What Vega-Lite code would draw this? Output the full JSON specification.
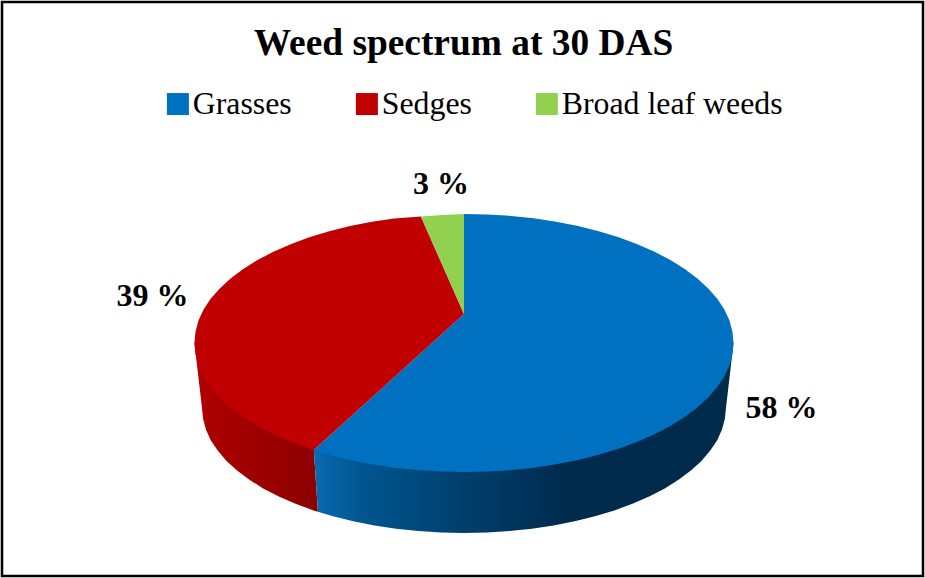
{
"$schema":"https://vega.github.io/schema/vega-lite/v6.json",
"description":"Three-dimensional style pie of weed spectrum shares, drawn from outlines in pie-radius units.",
"width":925,"height":578,
"autosize":{"type":"fit","contains":"padding"},
"padding":2,
"background":"white",
"view":{"stroke":"black","strokeWidth":2.5,"fill":"white"},
"title":{"text":"Weed spectrum at 30 DAS","font":"Liberation Serif","fontSize":37.4,"fontWeight":"bold","color":"black","anchor":"middle","frame":"group","baseline":"alphabetic","offset":-90,"dx":1},
"datasets":{
"shares":[
{"category":"Grasses","share":58,"label":"58 %","lx":117.8,"ly":-58.4},
{"category":"Sedges","share":39,"label":"39 %","lx":-115.6,"ly":29},
{"category":"Broad leaf weeds","share":3,"label":"3 %","lx":-8.5,"ly":115.8}
],
"top":[
{"category":"Grasses","i":0,"x":0,"y":22.5},{"category":"Grasses","i":1,"x":0,"y":100},{"category":"Grasses","i":2,"x":8.7,"y":99.6},{"category":"Grasses","i":3,"x":17.4,"y":98.5},{"category":"Grasses","i":4,"x":25.9,"y":96.6},{"category":"Grasses","i":5,"x":34.2,"y":94},{"category":"Grasses","i":6,"x":42.3,"y":90.6},{"category":"Grasses","i":7,"x":50,"y":86.6},{"category":"Grasses","i":8,"x":57.4,"y":81.9},{"category":"Grasses","i":9,"x":64.3,"y":76.6},{"category":"Grasses","i":10,"x":70.7,"y":70.7},{"category":"Grasses","i":11,"x":76.6,"y":64.3},{"category":"Grasses","i":12,"x":81.9,"y":57.4},{"category":"Grasses","i":13,"x":86.6,"y":50},{"category":"Grasses","i":14,"x":90.6,"y":42.3},{"category":"Grasses","i":15,"x":94,"y":34.2},{"category":"Grasses","i":16,"x":96.6,"y":25.9},{"category":"Grasses","i":17,"x":98.5,"y":17.4},{"category":"Grasses","i":18,"x":99.6,"y":8.7},{"category":"Grasses","i":19,"x":100,"y":0},{"category":"Grasses","i":20,"x":99.6,"y":-8.7},{"category":"Grasses","i":21,"x":98.5,"y":-17.4},{"category":"Grasses","i":22,"x":96.6,"y":-25.9},{"category":"Grasses","i":23,"x":94,"y":-34.2},{"category":"Grasses","i":24,"x":90.6,"y":-42.3},{"category":"Grasses","i":25,"x":86.6,"y":-50},{"category":"Grasses","i":26,"x":81.9,"y":-57.4},{"category":"Grasses","i":27,"x":76.6,"y":-64.3},{"category":"Grasses","i":28,"x":70.7,"y":-70.7},{"category":"Grasses","i":29,"x":64.3,"y":-76.6},{"category":"Grasses","i":30,"x":57.4,"y":-81.9},{"category":"Grasses","i":31,"x":50,"y":-86.6},{"category":"Grasses","i":32,"x":42.3,"y":-90.6},{"category":"Grasses","i":33,"x":34.2,"y":-94},{"category":"Grasses","i":34,"x":25.9,"y":-96.6},{"category":"Grasses","i":35,"x":17.4,"y":-98.5},{"category":"Grasses","i":36,"x":8.7,"y":-99.6},{"category":"Grasses","i":37,"x":0,"y":-100},{"category":"Grasses","i":38,"x":-8.7,"y":-99.6},{"category":"Grasses","i":39,"x":-17.4,"y":-98.5},{"category":"Grasses","i":40,"x":-25.9,"y":-96.6},{"category":"Grasses","i":41,"x":-34.2,"y":-94},{"category":"Grasses","i":42,"x":-42.3,"y":-90.6},{"category":"Grasses","i":43,"x":-50,"y":-86.6},{"category":"Grasses","i":44,"x":-55.7,"y":-83},
{"category":"Sedges","i":0,"x":0,"y":22.5},{"category":"Sedges","i":1,"x":-55.7,"y":-83},{"category":"Sedges","i":2,"x":-57.4,"y":-81.9},{"category":"Sedges","i":3,"x":-64.3,"y":-76.6},{"category":"Sedges","i":4,"x":-70.7,"y":-70.7},{"category":"Sedges","i":5,"x":-76.6,"y":-64.3},{"category":"Sedges","i":6,"x":-81.9,"y":-57.4},{"category":"Sedges","i":7,"x":-86.6,"y":-50},{"category":"Sedges","i":8,"x":-90.6,"y":-42.3},{"category":"Sedges","i":9,"x":-94,"y":-34.2},{"category":"Sedges","i":10,"x":-96.6,"y":-25.9},{"category":"Sedges","i":11,"x":-98.5,"y":-17.4},{"category":"Sedges","i":12,"x":-99.6,"y":-8.7},{"category":"Sedges","i":13,"x":-100,"y":0},{"category":"Sedges","i":14,"x":-99.6,"y":8.7},{"category":"Sedges","i":15,"x":-98.5,"y":17.4},{"category":"Sedges","i":16,"x":-96.6,"y":25.9},{"category":"Sedges","i":17,"x":-94,"y":34.2},{"category":"Sedges","i":18,"x":-90.6,"y":42.3},{"category":"Sedges","i":19,"x":-86.6,"y":50},{"category":"Sedges","i":20,"x":-81.9,"y":57.4},{"category":"Sedges","i":21,"x":-76.6,"y":64.3},{"category":"Sedges","i":22,"x":-70.7,"y":70.7},{"category":"Sedges","i":23,"x":-64.3,"y":76.6},{"category":"Sedges","i":24,"x":-57.4,"y":81.9},{"category":"Sedges","i":25,"x":-50,"y":86.6},{"category":"Sedges","i":26,"x":-42.3,"y":90.6},{"category":"Sedges","i":27,"x":-34.2,"y":94},{"category":"Sedges","i":28,"x":-25.9,"y":96.4},{"category":"Sedges","i":29,"x":-16,"y":98},
{"category":"Broad leaf weeds","i":0,"x":0,"y":22.5},{"category":"Broad leaf weeds","i":1,"x":-16,"y":98},{"category":"Broad leaf weeds","i":2,"x":-8,"y":99.2},{"category":"Broad leaf weeds","i":3,"x":0,"y":100}
],
"rimGrasses":[
{"i":0,"x":-55.7,"y":-83},{"i":1,"x":-54.2,"y":-130.8},{"i":2,"x":-48.6,"y":-134.3},{"i":3,"x":-41.1,"y":-138.2},{"i":4,"x":-33.2,"y":-141.5},{"i":5,"x":-25.2,"y":-144},{"i":6,"x":-16.9,"y":-145.8},{"i":7,"x":-8.5,"y":-146.9},{"i":8,"x":0,"y":-147.3},{"i":9,"x":8.5,"y":-146.9},{"i":10,"x":16.9,"y":-145.8},{"i":11,"x":25.2,"y":-144},{"i":12,"x":33.2,"y":-141.5},{"i":13,"x":41.1,"y":-138.2},{"i":14,"x":48.6,"y":-134.3},{"i":15,"x":55.8,"y":-129.8},{"i":16,"x":62.5,"y":-124.6},{"i":17,"x":68.7,"y":-118.9},{"i":18,"x":74.5,"y":-112.7},{"i":19,"x":79.6,"y":-106},{"i":20,"x":84.2,"y":-98.9},{"i":21,"x":88.1,"y":-91.4},{"i":22,"x":91.3,"y":-83.5},{"i":23,"x":93.9,"y":-75.5},{"i":24,"x":95.7,"y":-67.2},{"i":25,"x":96.8,"y":-58.8},{"i":26,"x":97.2,"y":-50.4},{"i":27,"x":100,"y":0},{"i":28,"x":0,"y":0}
],
"rimSedges":[
{"i":0,"x":-100,"y":0},{"i":1,"x":-97.2,"y":-50.4},{"i":2,"x":-96.8,"y":-58.8},{"i":3,"x":-95.7,"y":-67.2},{"i":4,"x":-93.9,"y":-75.5},{"i":5,"x":-91.3,"y":-83.5},{"i":6,"x":-88.1,"y":-91.4},{"i":7,"x":-84.2,"y":-98.9},{"i":8,"x":-79.6,"y":-106},{"i":9,"x":-74.5,"y":-112.7},{"i":10,"x":-68.7,"y":-118.9},{"i":11,"x":-62.5,"y":-124.6},{"i":12,"x":-55.8,"y":-129.8},{"i":13,"x":-54.2,"y":-130.8},{"i":14,"x":-55.7,"y":-83},{"i":15,"x":-60,"y":0}
]
},
"encoding":{
"x":{"field":"x","type":"quantitative","axis":null,"scale":{"domain":[-171.4,170.3],"nice":false,"zero":false}},
"y":{"field":"y","type":"quantitative","axis":null,"scale":{"domain":[-180.6,264.3],"nice":false,"zero":false}},
"order":{"field":"i","type":"quantitative"}
},
"layer":[
{"data":{"name":"rimSedges"},
"mark":{"type":"line","filled":true,"stroke":null,"fill":{"gradient":"linear","x1":0,"x2":1,"y1":0,"y2":0,"stops":[{"offset":0,"color":"#b40000"},{"offset":0.15,"color":"#aa0000"},{"offset":1,"color":"#8c0000"}]}}},
{"data":{"name":"rimGrasses"},
"mark":{"type":"line","filled":true,"stroke":null,"fill":{"gradient":"linear","x1":0,"x2":1,"y1":0,"y2":0,"stops":[{"offset":0,"color":"#0a69b0"},{"offset":0.12,"color":"#00558f"},{"offset":0.36,"color":"#003f6c"},{"offset":0.6,"color":"#002b4d"},{"offset":1,"color":"#002b4b"}]}}},
{"data":{"name":"top"},
"mark":{"type":"line","filled":true,"stroke":null},
"encoding":{"color":{"field":"category","type":"nominal","scale":{"domain":["Grasses","Sedges","Broad leaf weeds"],"range":["#0070c0","#c00000","#92d050"]},
"legend":{"title":null,"orient":"none","legendX":160,"legendY":86,"direction":"horizontal","columns":3,"symbolType":"square","symbolSize":484,"symbolStrokeWidth":0,"labelFont":"Liberation Serif","labelFontSize":31.8,"labelColor":"black","labelOffset":-1,"columnPadding":59,"labelLimit":400}}}},
{"data":{"name":"shares"},
"mark":{"type":"text","font":"Liberation Serif","fontSize":32,"fontWeight":"bold","color":"black","align":"center","baseline":"alphabetic"},
"encoding":{"x":{"field":"lx","type":"quantitative"},"y":{"field":"ly","type":"quantitative"},"text":{"field":"label"},"order":{"value":null}}}
]
}
